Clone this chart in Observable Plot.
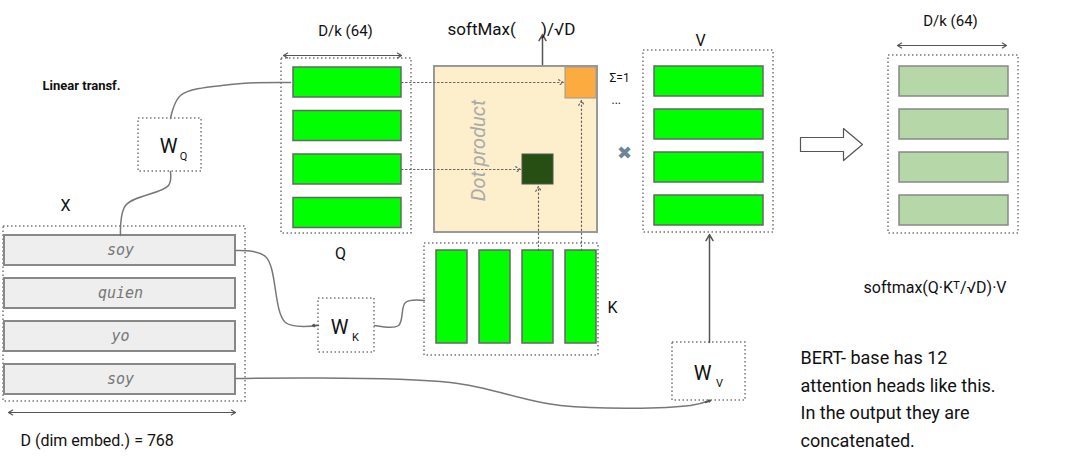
<!DOCTYPE html>
<html><head><meta charset="utf-8">
<script src="https://cdn.jsdelivr.net/npm/d3@7"></script>
<script src="https://cdn.jsdelivr.net/npm/@observablehq/plot@0.6"></script>
<style>body{margin:0;background:#fff}</style>
</head><body><div id="chart"></div>
<script>
// tokens and labels
const tokens = ["soy", "quien", "yo", "soy"];
const bertLines = ["BERT- base has 12", "attention heads like this.", "In the output they are", "concatenated."];

// boxes: x1,x2,y1,y2 (pixel space, y down)
const xRows = tokens.map((t, i) => ({x1: 4, x2: 235, y1: 235 + i * 43, y2: 265 + i * 43, t}));
const qRows = [0, 1, 2, 3].map(i => ({x1: 293, x2: 401, y1: 67 + i * 43.5, y2: 97 + i * 43.5}));
const vRows = [0, 1, 2, 3].map(i => ({x1: 654, x2: 763, y1: 66 + i * 43, y2: 96 + i * 43}));
const oRows = [0, 1, 2, 3].map(i => ({x1: 899, x2: 1008, y1: 66 + i * 43, y2: 96 + i * 43}));
const kCols = [0, 1, 2, 3].map(i => ({x1: 436 + i * 43, x2: 467 + i * 43, y1: 250, y2: 343}));
const dotted = [
  {x1: 3, x2: 245, y1: 226, y2: 401}, {x1: 281, x2: 411, y1: 58, y2: 233},
  {x1: 643, x2: 773, y1: 50, y2: 232}, {x1: 424, x2: 598, y1: 243, y2: 355},
  {x1: 888, x2: 1018, y1: 55, y2: 233},
  {x1: 138, x2: 201, y1: 118, y2: 171}, {x1: 318, x2: 374, y1: 298, y2: 352},
  {x1: 672, x2: 745, y1: 342, y2: 400}
];
const curves = [
  [[120, 235], [125, 205], [168, 185], [170, 171]],
  [[170, 118], [180, 95], [230, 84], [290, 82]],
  [[235, 250], [265, 256], [285, 322], [316, 325]],
  [[374, 325], [398, 325], [405, 302], [424, 300]],
  [[235, 378], [450, 382], [560, 405], [690, 405], [709, 400]]
];
const curveData = curves.flatMap((c, i) => c.map(([x, y]) => ({x, y, i})));
const dottedArrows = [
  {x1: 401, y1: 82, x2: 563, y2: 82}, {x1: 401, y1: 169, x2: 520, y2: 169},
  {x1: 538, y1: 250, x2: 538, y2: 186}, {x1: 581, y1: 250, x2: 581, y2: 100}
];
const solidArrows = [
  {x1: 542, y1: 64, x2: 542, y2: 34}, {x1: 709, y1: 342, x2: 709, y2: 234},
  {x1: 318, y1: 325, x2: 312, y2: 325}, {x1: 705, y1: 402, x2: 710, y2: 400}
];
const dbl = [
  {x1: 8, x2: 235, y: 412}, {x1: 283, x2: 401, y: 55}, {x1: 897, x2: 1006, y: 45}
];
const labels = [
  {x: 42, y: 85, t: "Linear transf.", s: 13, w: "bold", a: "start"},
  {x: 65, y: 205, t: "X", s: 16}, {x: 340, y: 253, t: "Q", s: 16},
  {x: 700, y: 40, t: "V", s: 16}, {x: 612, y: 307, t: "K", s: 16},
  {x: 345, y: 31, t: "D/k (64)", s: 15}, {x: 950, y: 21, t: "D/k (64)", s: 15},
  {x: 447, y: 29, t: "softMax(      )/√D", s: 17, a: "start"},
  {x: 609, y: 78, t: "Σ=1", s: 12, a: "start"}, {x: 611, y: 100, t: "...", s: 12, a: "start"},
  {x: 624, y: 153, t: "✖", s: 18, c: "#6f8596"},
  {x: 20, y: 440, t: "D (dim embed.) = 768", s: 16, a: "start"},
  {x: 863, y: 287, t: "softmax(Q·Kᵀ/√D)·V", s: 16, a: "start"},
  {x: 168, y: 146, t: "W", s: 20}, {x: 183, y: 156, t: "Q", s: 11},
  {x: 339, y: 327, t: "W", s: 20}, {x: 355, y: 337, t: "K", s: 11},
  {x: 702, y: 373, t: "W", s: 20}, {x: 719, y: 383, t: "V", s: 11},
  ...bertLines.map((t, i) => ({x: 800, y: 358 + i * 27.5, t, s: 18, a: "start"}))
];

const R = (d, o) => Plot.rect(d, {x1: "x1", x2: "x2", y1: "y1", y2: "y2", ...o});
const chart = Plot.plot({
  width: 1082, height: 469, margin: 0,
  x: {domain: [0, 1082], range: [0, 1082], axis: null},
  y: {domain: [0, 469], range: [0, 469], axis: null},
  style: {fontFamily: "Roboto, sans-serif", background: "#fff"},
  marks: [
    R(dotted, {fill: "none", stroke: "#777", strokeDasharray: "1.5,2.5", strokeWidth: 1.5}),
    R([{x1: 434, x2: 597, y1: 66, y2: 232}], {fill: "#fdefcb", stroke: "#999", strokeWidth: 2}),
    R(xRows, {fill: "#eeeeee", stroke: "#888", strokeWidth: 2}),
    R(qRows, {fill: "#00ff00", stroke: "#666", strokeWidth: 1.5}),
    R(vRows, {fill: "#00ff00", stroke: "#666", strokeWidth: 1.5}),
    R(kCols, {fill: "#00ff00", stroke: "#666", strokeWidth: 1.5}),
    R(oRows, {fill: "#b6d7a8", stroke: "#888", strokeWidth: 1.5}),
    R([{x1: 565, x2: 596, y1: 67, y2: 98}], {fill: "#fbab40", stroke: "#999"}),
    R([{x1: 522, x2: 553, y1: 154, y2: 184}], {fill: "#274e13", stroke: "#555"}),
    Plot.text(["Dot product"], {x: 478, y: 150, rotate: -90, fontSize: 20, fontStyle: "italic", fill: "#aaa"}),
    Plot.text(xRows, {x: 120, y: d => (d.y1 + d.y2) / 2, text: "t", fontFamily: "DejaVu Sans Mono", fontStyle: "italic", fontSize: 15, fill: "#777"}),
    Plot.line(curveData, {x: "x", y: "y", z: "i", curve: "catmull-rom", stroke: "#777", strokeWidth: 1.5}),
    Plot.arrow(dottedArrows, {x1: "x1", y1: "y1", x2: "x2", y2: "y2", stroke: "#666", strokeDasharray: "1.5,2.5", headLength: 7, strokeWidth: 1.2}),
    Plot.arrow(solidArrows, {x1: "x1", y1: "y1", x2: "x2", y2: "y2", stroke: "#555", headLength: 7, strokeWidth: 1.5}),
    Plot.arrow(dbl, {x1: "x1", x2: "x2", y1: "y", y2: "y", stroke: "#555", headLength: 6, strokeWidth: 1.2}),
    Plot.arrow(dbl, {x1: "x2", x2: "x1", y1: "y", y2: "y", stroke: "#555", headLength: 6, strokeWidth: 1.2}),
    Plot.line([[800, 137], [843, 137], [843, 128], [862, 144], [843, 160], [843, 151], [800, 151], [800, 137]],
      {stroke: "#555", fill: "#fff", strokeWidth: 1.2}),
    ...labels.map(l => Plot.text([l], {x: "x", y: "y", text: "t", fontSize: l.s, fontWeight: l.w || "normal",
      textAnchor: l.a || "middle", fill: l.c || "#111"}))
  ]
});
document.getElementById("chart").append(chart);
</script></body></html>
